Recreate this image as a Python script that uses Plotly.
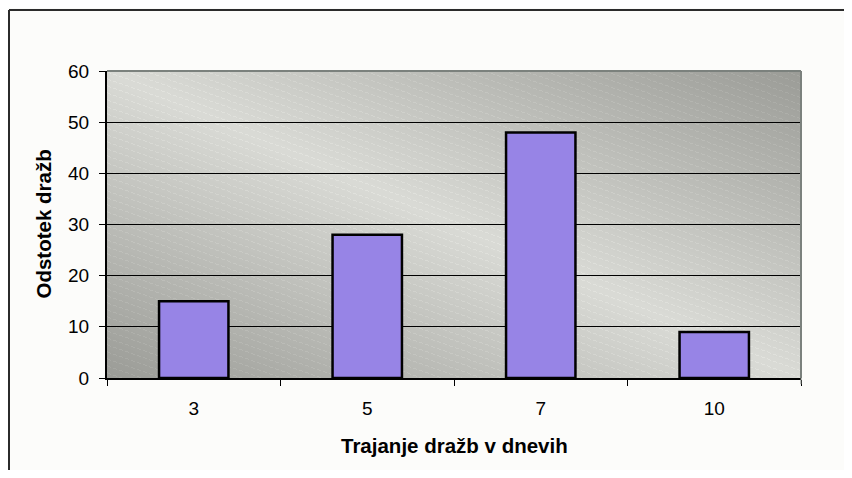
import numpy as np
import zlib, struct, base64
import plotly.graph_objects as go

# ---- data ----
categories = ["3", "5", "7", "10"]
values = [15, 28, 48, 9]
x_title = "Trajanje dražb v dnevih"
y_title = "Odstotek dražb"
y_ticks = [0, 10, 20, 30, 40, 50, 60]

# ---- background gradient image (styling only) ----
W, H = 694, 307
u = (np.arange(W) + 0.5) / W
v = (np.arange(H) + 0.5) / H
U, V = np.meshgrid(u, v)
s = np.abs(U - V)
light = np.array([218, 219, 214], dtype=float)
dark = np.array([155, 156, 151], dtype=float)
img = light + (dark - light) * s[..., None]
PX, PY = np.meshgrid(np.arange(W), np.arange(H))
mask = (((PY - 0.35 * PX) % 7) < 1) & ((PX % 6) < 4)
img[mask] += 9
img = np.clip(img, 0, 255).astype(np.uint8)

def _chunk(t, d):
    return struct.pack(">I", len(d)) + t + d + struct.pack(">I", zlib.crc32(t + d) & 0xffffffff)

raw = b"".join(b"\x00" + row.tobytes() for row in img)
png = (b"\x89PNG\r\n\x1a\n"
       + _chunk(b"IHDR", struct.pack(">IIBBBBB", W, H, 8, 2, 0, 0, 0))
       + _chunk(b"IDAT", zlib.compress(raw, 9))
       + _chunk(b"IEND", b""))
src = "data:image/png;base64," + base64.b64encode(png).decode()

FONT = "Liberation Sans, Arial, sans-serif"

fig = go.Figure()
fig.add_trace(go.Bar(
    x=categories, y=values,
    marker=dict(color="#9784e6", line=dict(color="#000000", width=2.5)),
    hoverinfo="x+y",
))

# the page has an 8px body margin; keep the figure inside the viewport
FW, FH = 836, 462
L, T = 99, 63
PW, PH = 694, 307
R, B = FW - L - PW, FH - T - PH

def px2x(p):
    return (p - L) / PW

def py2y(p):
    return (T + PH - p) / PH

fig.update_layout(
    width=FW, height=FH,
    margin=dict(l=L, r=R, t=T, b=B, autoexpand=False),
    paper_bgcolor="#fcfcfa",
    plot_bgcolor="rgba(0,0,0,0)",
    showlegend=False,
    bargap=0.6,
    font=dict(family=FONT, size=19, color="#000000"),
    images=[dict(source=src, xref="paper", yref="paper", x=0, y=1,
                 sizex=1, sizey=1, sizing="stretch", xanchor="left",
                 yanchor="top", layer="below")],
    xaxis=dict(type="category", showgrid=False, showline=True,
               linecolor="#000000", linewidth=1.5, ticks="outside",
               tickson="boundaries", ticklen=6, tickcolor="#000000",
               tickwidth=1, ticklabelstandoff=12,
               tickfont=dict(family=FONT, size=19), zeroline=False),
    yaxis=dict(range=[0, 60], tickvals=y_ticks, showgrid=True,
               gridcolor="#000000", gridwidth=1, showline=True,
               linecolor="#000000", linewidth=2, ticks="outside",
               ticklen=6, tickcolor="#000000", tickwidth=1,
               ticklabelstandoff=6,
               tickfont=dict(family=FONT, size=19), zeroline=False),
    shapes=[
        dict(type="line", xref="paper", yref="paper", x0=0, x1=1, y0=1, y1=1,
             line=dict(color="#7b817d", width=2)),
        dict(type="line", xref="paper", yref="paper", x0=1, x1=1, y0=0, y1=1,
             line=dict(color="#7b817d", width=2)),
        dict(type="line", xref="paper", yref="paper", x0=1, x1=1, y0=-0.02, y1=0,
             line=dict(color="#7b817d", width=1)),
        dict(type="line", xref="paper", yref="paper", x0=px2x(1), x1=px2x(1),
             y0=py2y(2), y1=py2y(500), line=dict(color="#2b2b2b", width=2)),
        dict(type="line", xref="paper", yref="paper", x0=px2x(1), x1=px2x(900),
             y0=py2y(2), y1=py2y(2), line=dict(color="#2b2b2b", width=2)),
    ],
    annotations=[
        dict(text="<b>" + x_title + "</b>", xref="paper", yref="paper",
             x=0.5, y=py2y(437), xanchor="center", yanchor="middle",
             showarrow=False, font=dict(family=FONT, size=20.5)),
        dict(text="<b>" + y_title + "</b>", xref="paper", yref="paper",
             x=px2x(35), y=0.5, xanchor="center", yanchor="middle",
             textangle=-90, showarrow=False, font=dict(family=FONT, size=20.5)),
    ],
)

fig.write_html("out.html")
